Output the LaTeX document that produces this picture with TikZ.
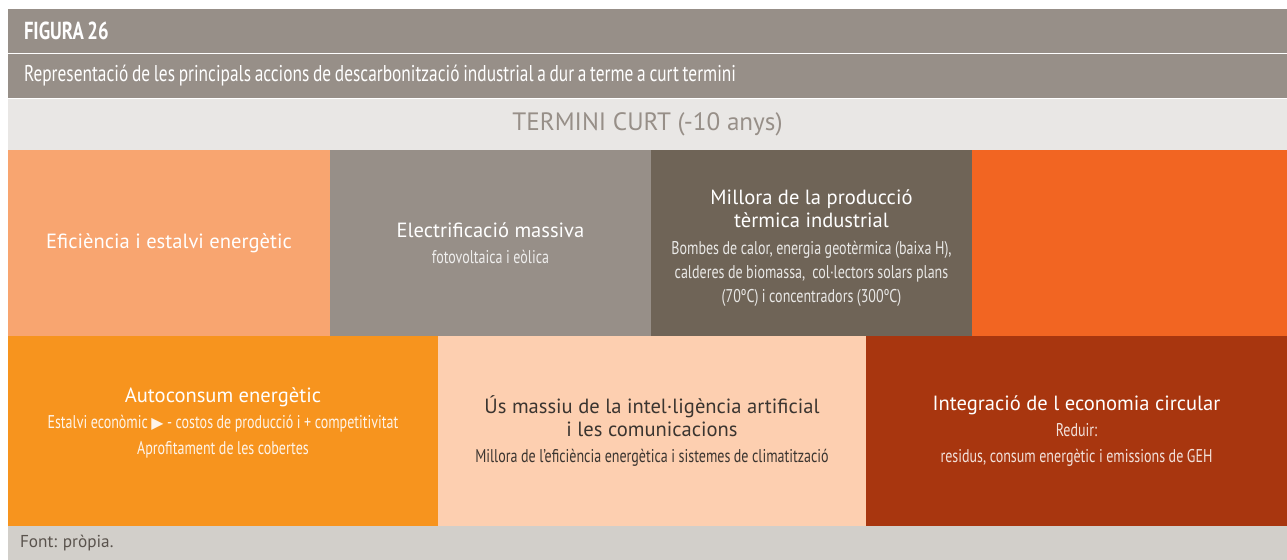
\documentclass[tikz,border=0pt]{standalone}
\usepackage{fontspec}
\setmainfont{PT Sans}
\newfontfamily\condfont[FakeStretch=0.76]{PT Sans}
\newfontfamily\symfont{DejaVu Sans}
\usetikzlibrary{positioning}
\frenchspacing
\definecolor{figgray}{HTML}{978F88}
\definecolor{bandgray}{HTML}{E9E7E5}
\definecolor{footgray}{HTML}{D2CFCA}
\definecolor{peach}{HTML}{F8A570}
\definecolor{taupe}{HTML}{6F6457}
\definecolor{flame}{HTML}{F26522}
\definecolor{amber}{HTML}{F7941E}
\definecolor{cream}{HTML}{FDCFB0}
\definecolor{rust}{HTML}{A8360F}
\definecolor{inkdark}{HTML}{3B3530}
\definecolor{inkfoot}{HTML}{5A534D}
\newcommand{\tilehead}[1]{{\fontsize{11.7}{15}\selectfont #1}}
\newcommand{\tilesub}[1]{{\condfont\fontsize{10.5}{15}\selectfont\spaceskip=2pt plus 1pt minus 0.5pt\relax #1}}
\newcommand{\headspace}{\spaceskip=2.1pt plus 1pt minus 0.5pt\relax}
\tikzset{
    headbar/.style={rectangle, fill=figgray, minimum width=25.58cm, minimum height=0.88cm, inner sep=0pt, outer sep=0pt, text width=24.94cm, align=left, text=white, font=\condfont\fontsize{13}{14}\selectfont, execute at begin node=\headspace},
    band/.style={rectangle, fill=bandgray, minimum width=25.58cm, minimum height=1.02cm, inner sep=0pt, outer sep=0pt, text=figgray, font=\fontsize{14.3}{16}\selectfont},
    tile/.style={rectangle, minimum height=3.72cm, inner sep=0pt, outer sep=0pt, align=center, text=white, font=\fontsize{10.5}{15}\selectfont},
    lowtile/.style={tile, minimum height=3.80cm},
    footbar/.style={rectangle, fill=footgray, minimum width=25.58cm, minimum height=0.68cm, inner sep=0pt, outer sep=0pt, text width=25.10cm, align=left, text=inkfoot, font=\fontsize{9.8}{12}\selectfont}
}
\begin{document}
\begin{tikzpicture}
    \useasboundingbox (0,0) rectangle (25.74,-11.2);
    % title bars
    \node[headbar, anchor=north west] (figura) at (0.16,-0.18) {\bfseries\fontsize{14}{14}\selectfont FIGURA 26};
    \node[headbar, below=0.02cm of figura.south west, anchor=north west] (caption) {Representació de les principals accions de descarbonització industrial a dur a terme a curt termini};
    \node[band, below=0.02cm of caption.south west, anchor=north west] (termini) {TERMINI CURT (-10 anys)};

    % first row
    \node[tile, fill=peach, minimum width=6.44cm, below=0cm of termini.south west, anchor=north west] (eficiencia) {\tilehead{Eficiència i estalvi energètic}};
    \node[tile, fill=figgray, minimum width=6.42cm, right=0cm of eficiencia] (electrificacio) {\tilehead{Electrificació massiva}\\ \tilesub{\color{white!85!figgray}fotovoltaica i eòlica}};
    \node[tile, fill=taupe, minimum width=6.42cm, right=0cm of electrificacio] (termica) {\mbox{}\\[-1pt] \tilehead{Millora de la producció}\\[-2pt] \tilehead{tèrmica industrial}\\[0.5pt] \tilesub{\color{white!85!taupe}Bombes de calor, energia geotèrmica (baixa H),}\\[-1.5pt] \tilesub{\color{white!85!taupe}calderes de biomassa,\ \ col·lectors solars plans}\\[-1.5pt] \tilesub{\color{white!85!taupe}(70ºC) i concentradors (300ºC)}};
    \node[tile, fill=flame, minimum width=6.30cm, right=0cm of termica] (buida) {};

    % second row
    \node[lowtile, fill=amber, minimum width=8.60cm, below=0cm of eficiencia.south west, anchor=north west] (autoconsum) {\tilehead{Autoconsum energètic}\\ \tilesub{\color{white!90!amber}Estalvi econòmic {\symfont\fontsize{9}{15}\selectfont ▶} - costos de producció i + competitivitat}\\ \tilesub{\color{white!90!amber}Aprofitament de les cobertes}\\[-3.6pt] \mbox{}};
    \node[lowtile, fill=cream, text=inkdark, minimum width=8.56cm, right=0cm of autoconsum] (intelligencia) {\tilehead{Ús massiu de la intel·ligència artificial}\\[-2pt] \tilehead{i les comunicacions}\\ \tilesub{Millora de l’eficiència energètica i sistemes de climatització}};
    \node[lowtile, fill=rust, minimum width=8.42cm, right=0cm of intelligencia] (circular) {\tilehead{Integració de l economia circular}\\ \tilesub{\color{white!85!rust}Reduir:}\\ \tilesub{\color{white!85!rust}residus, consum energètic i emissions de GEH}};

    % source
    \node[footbar, below=0cm of autoconsum.south west, anchor=north west] (font) {Font: pròpia.};
\end{tikzpicture}
\end{document}
